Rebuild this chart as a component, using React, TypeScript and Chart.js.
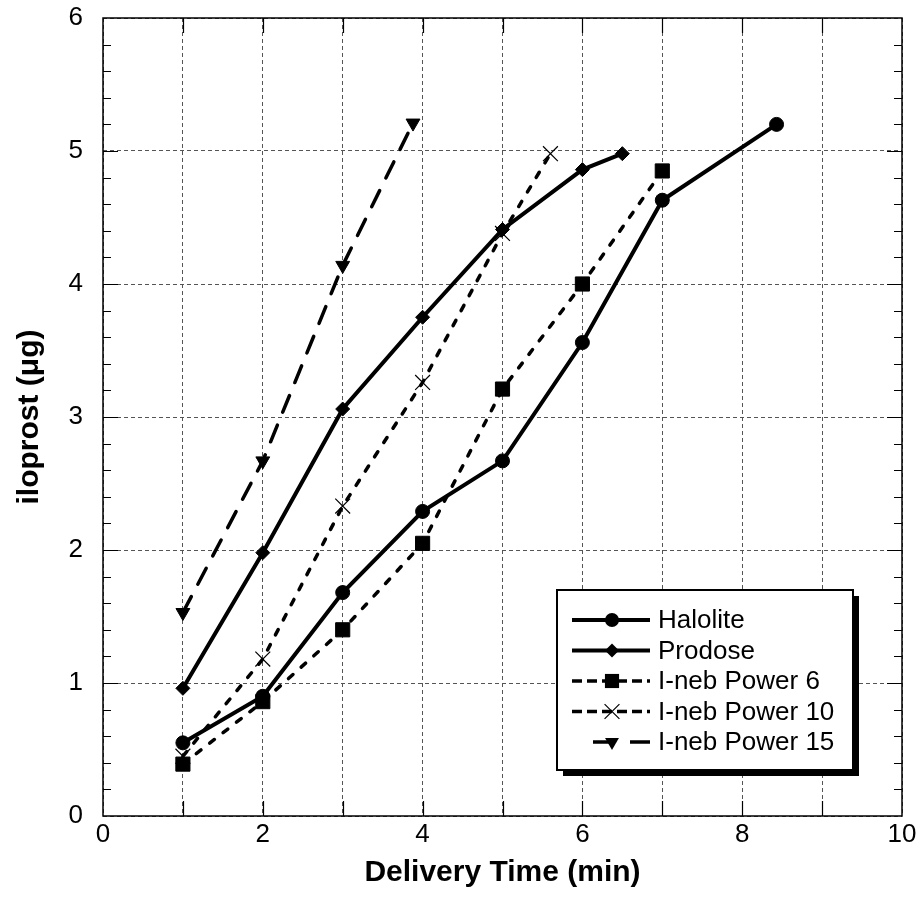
import React, { useEffect, useRef } from 'react';
import { Chart, registerables } from 'chart.js';

Chart.register(...registerables);

const FONT = '"Liberation Sans", Arial, Helvetica, sans-serif';

const haloliteX = [1, 2, 3, 4, 5, 6, 7, 8.43];
const haloliteY = [0.55, 0.9, 1.68, 2.29, 2.67, 3.56, 4.63, 5.2];
const prodoseX = [1, 2, 3, 4, 5, 6, 6.5];
const prodoseY = [0.96, 1.98, 3.06, 3.75, 4.41, 4.86, 4.98];
const power6X = [1, 2, 3, 4, 5, 6, 7];
const power6Y = [0.39, 0.86, 1.4, 2.05, 3.21, 4.0, 4.85];
const power10X = [1, 2, 3, 4, 5, 5.6];
const power10Y = [0.45, 1.18, 2.33, 3.26, 4.38, 4.98];
const power15X = [1, 2, 3, 3.88];
const power15Y = [1.53, 2.67, 4.14, 5.21];

const seriesLabels = ['Halolite', 'Prodose', 'I-neb Power 6', 'I-neb Power 10', 'I-neb Power 15'];
const xTickLabels = ['0', '2', '4', '6', '8', '10'];
const yTickLabels = ['0', '1', '2', '3', '4', '5', '6'];

const toPoints = (xs: number[], ys: number[]) => xs.map((x, i) => ({ x, y: ys[i] }));

function drawMarker(ctx: CanvasRenderingContext2D, style: string, x: number, y: number, r: number, rot: number) {
  ctx.save();
  ctx.fillStyle = '#000';
  ctx.strokeStyle = '#000';
  ctx.setLineDash([]);
  ctx.beginPath();
  if (style === 'circle') {
    ctx.arc(x, y, r, 0, Math.PI * 2);
    ctx.fill();
  } else if (style === 'rectRot') {
    ctx.moveTo(x - r, y);
    ctx.lineTo(x, y - r);
    ctx.lineTo(x + r, y);
    ctx.lineTo(x, y + r);
    ctx.closePath();
    ctx.fill();
  } else if (style === 'rect') {
    const s = Math.SQRT1_2 * r;
    ctx.rect(x - s, y - s, 2 * s, 2 * s);
    ctx.fill();
  } else if (style === 'crossRot') {
    const s = Math.SQRT1_2 * r;
    ctx.lineWidth = 1.2;
    ctx.moveTo(x - s, y - s);
    ctx.lineTo(x + s, y + s);
    ctx.moveTo(x + s, y - s);
    ctx.lineTo(x - s, y + s);
    ctx.stroke();
  } else if (style === 'triangle') {
    let a = (rot * Math.PI) / 180;
    ctx.moveTo(x + Math.sin(a) * r, y - Math.cos(a) * r);
    a += (2 * Math.PI) / 3;
    ctx.lineTo(x + Math.sin(a) * r, y - Math.cos(a) * r);
    a += (2 * Math.PI) / 3;
    ctx.lineTo(x + Math.sin(a) * r, y - Math.cos(a) * r);
    ctx.closePath();
    ctx.fill();
  }
  ctx.restore();
}

const framePlugin = {
  id: 'frameTicks',
  beforeDatasetsDraw(chart: any) {
    const { ctx, chartArea } = chart;
    const { left, right, top, bottom } = chartArea;
    const xs = chart.scales.x;
    const ys = chart.scales.y;
    ctx.save();
    ctx.strokeStyle = '#000';
    ctx.lineWidth = 1.5;
    ctx.setLineDash([]);
    ctx.strokeRect(left, top, right - left, bottom - top);
    ctx.lineWidth = 1.2;
    ctx.beginPath();
    for (let i = 1; i < 30; i++) {
      const v = i * 0.2;
      const py = Math.round(ys.getPixelForValue(v)) + 0.5;
      const len = i % 5 === 0 ? 15 : 8;
      ctx.moveTo(left, py);
      ctx.lineTo(left + len, py);
      ctx.moveTo(right, py);
      ctx.lineTo(right - len, py);
    }
    for (let v = 1; v < 10; v++) {
      const px = Math.round(xs.getPixelForValue(v)) + 0.5;
      ctx.moveTo(px, bottom);
      ctx.lineTo(px, bottom - 15);
      ctx.moveTo(px, top);
      ctx.lineTo(px, top + 15);
    }
    ctx.stroke();
    ctx.restore();
  },
};

const legendPlugin = {
  id: 'boxLegend',
  afterDraw(chart: any) {
    const { ctx } = chart;
    const bx = 557;
    const by = 590;
    const bw = 296;
    const bh = 180;
    ctx.save();
    ctx.fillStyle = '#000';
    ctx.fillRect(bx + 6, by + 6, bw, bh);
    ctx.fillStyle = '#fff';
    ctx.fillRect(bx, by, bw, bh);
    ctx.strokeStyle = '#000';
    ctx.lineWidth = 2;
    ctx.strokeRect(bx, by, bw, bh);
    const rowsY = [620, 650.5, 681, 711.5, 742];
    chart.data.datasets.forEach((ds: any, i: number) => {
      const y = rowsY[i];
      ctx.save();
      ctx.strokeStyle = '#000';
      ctx.lineWidth = ds.borderWidth;
      ctx.lineCap = 'butt';
      if (ds.legendDash) {
        ctx.setLineDash(ds.legendDash);
        ctx.lineDashOffset = ds.legendDashOffset || 0;
      } else {
        ctx.setLineDash([]);
      }
      ctx.beginPath();
      ctx.moveTo(ds.legendStart || 572, y);
      ctx.lineTo(650, y);
      ctx.stroke();
      ctx.restore();
      drawMarker(ctx, ds.pointStyle, 612, y, ds.pointRadius, ds.pointRotation || 0);
      ctx.fillStyle = '#000';
      ctx.font = `26px ${FONT}`;
      ctx.textBaseline = 'middle';
      ctx.textAlign = 'left';
      ctx.fillText(ds.label, 658, y + 1);
    });
    ctx.restore();
  },
};

export default function App() {
  const ref = useRef<HTMLCanvasElement | null>(null);

  useEffect(() => {
    if (!ref.current) return;
    const base = {
      showLine: true,
      borderColor: '#000',
      backgroundColor: '#000',
      pointBackgroundColor: '#000',
      pointBorderColor: '#000',
      pointBorderWidth: 1,
      fill: false,
      tension: 0,
      borderCapStyle: 'round',
    };
    const chart = new Chart(ref.current, {
      type: 'scatter',
      data: {
        datasets: [
          {
            ...base,
            label: seriesLabels[0],
            data: toPoints(haloliteX, haloliteY),
            borderWidth: 4,
            pointStyle: 'circle',
            pointRadius: 7,
            order: 5,
          },
          {
            ...base,
            label: seriesLabels[1],
            data: toPoints(prodoseX, prodoseY),
            borderWidth: 4,
            pointStyle: 'rectRot',
            pointRadius: 7,
            order: 4,
          },
          {
            ...base,
            label: seriesLabels[2],
            data: toPoints(power6X, power6Y),
            borderWidth: 3.5,
            borderDash: [6, 11],
            legendDash: [10, 5],
            pointStyle: 'rect',
            pointRadius: 10,
            order: 3,
          },
          {
            ...base,
            label: seriesLabels[3],
            data: toPoints(power10X, power10Y),
            borderWidth: 3.5,
            borderDash: [6, 11],
            legendDash: [10, 5],
            pointStyle: 'crossRot',
            pointRadius: 10.5,
            pointBorderWidth: 1.2,
            order: 2,
          },
          {
            ...base,
            label: seriesLabels[4],
            data: toPoints(power15X, power15Y),
            borderWidth: 3.5,
            borderDash: [18, 14],
            legendDash: [20, 17],
            legendStart: 590,
            legendDashOffset: -3,
            pointStyle: 'triangle',
            pointRotation: 180,
            pointRadius: 8,
            order: 1,
          },
        ] as any,
      },
      options: {
        animation: false,
        responsive: false,
        maintainAspectRatio: false,
        layout: { padding: { left: 0, right: 16, top: 18, bottom: 0 } },
        plugins: {
          legend: { display: false },
          tooltip: { enabled: false },
        },
        scales: {
          x: {
            type: 'linear',
            min: 0,
            max: 10,
            afterBuildTicks: (scale: any) => {
              const t = [];
              for (let v = 0; v <= 10; v++) t.push({ value: v });
              scale.ticks = t;
            },
            ticks: {
              autoSkip: false,
              maxRotation: 0,
              minRotation: 0,
              padding: 3,
              color: '#000',
              font: { family: FONT, size: 26 },
              callback: (v: any) => (Number(v) % 2 === 0 ? xTickLabels[Number(v) / 2] : ''),
            },
            grid: { color: '#555', lineWidth: 1, drawTicks: false },
            border: { display: false, dash: [4, 3] },
            title: {
              display: true,
              text: 'Delivery Time (min)',
              color: '#000',
              font: { family: FONT, size: 30, weight: 'bold' },
              padding: { top: 0, bottom: 22 },
            },
            afterFit: (scale: any) => {
              scale.height = 97;
              scale.paddingLeft = 0;
              scale.paddingRight = 0;
            },
          },
          y: {
            type: 'linear',
            min: 0,
            max: 6,
            afterBuildTicks: (scale: any) => {
              const t = [];
              for (let v = 0; v <= 6; v++) t.push({ value: v });
              scale.ticks = t;
            },
            ticks: {
              padding: 20,
              color: '#000',
              font: { family: FONT, size: 26 },
              callback: (v: any) => yTickLabels[Number(v)],
            },
            grid: { color: '#555', lineWidth: 1, drawTicks: false },
            border: { display: false, dash: [4, 3] },
            title: {
              display: true,
              text: 'iloprost (\u03bcg)',
              color: '#000',
              font: { family: FONT, size: 30, weight: 'bold' },
              padding: { top: 12, bottom: 0 },
            },
            afterFit: (scale: any) => {
              scale.width = 103;
              scale.paddingTop = 0;
              scale.paddingBottom = 0;
            },
          },
        },
      } as any,
      plugins: [framePlugin, legendPlugin],
    });
    return () => chart.destroy();
  }, []);

  return (
    <div style={{ position: 'absolute', left: 0, top: 0, width: 918, height: 913, background: '#fff' }}>
      <canvas ref={ref} width={918} height={913} style={{ width: 918, height: 913, display: 'block' }} />
    </div>
  );
}
